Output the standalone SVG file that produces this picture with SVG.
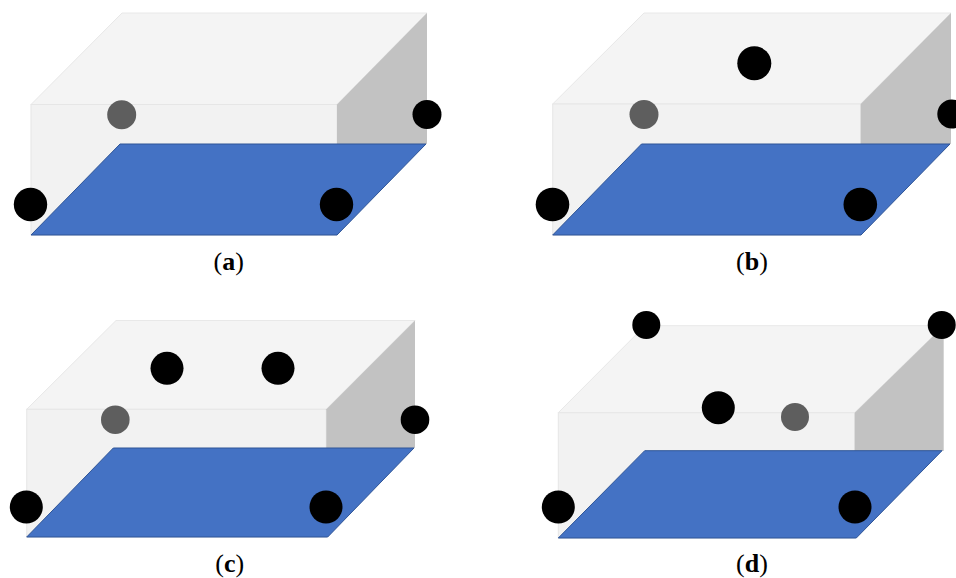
<svg xmlns="http://www.w3.org/2000/svg" width="956" height="578" viewBox="0 0 956 578">
<style>
.front{fill:#f2f2f2;stroke:#e6e6e6;stroke-width:1}
.top{fill:#f4f4f4;stroke:#e8e8e8;stroke-width:1}
.side{fill:#c2c2c2}
.floor{fill:#4472c4;stroke:#2f5597;stroke-width:1}
.b{fill:#000}
.g{fill:#5e5e5e}
text{font-family:"Liberation Serif","Times New Roman",serif;font-size:26px;fill:#000;text-anchor:middle}
.l{font-weight:bold}
</style>
<rect width="956" height="578" fill="#fff"/>
<g id="panel-a">
<path class="top" d="M31 104.500L122 13H427L337 104.500Z"/>
<rect class="front" x="31" y="104.500" width="306" height="130.500"/>
<path class="side" d="M337 104.500L427 13V144H337Z"/>
<path class="floor" d="M31 235L120 144H426L337 235Z"/>
<circle class="g" cx="121.700" cy="114.700" r="14.500"/>
<circle class="b" cx="427" cy="114.500" r="14.500"/>
<circle class="b" cx="30.500" cy="204.500" r="16.700"/>
<circle class="b" cx="336.500" cy="204.500" r="16.700"/>
<text x="228.700" y="269.500">(<tspan class="l">a</tspan>)</text>
</g>
<g id="panel-b">
<path class="top" d="M552.700 104L644 13H951L860.700 104Z"/>
<rect class="front" x="552.700" y="104" width="308" height="131"/>
<path class="side" d="M860.700 104L951 13V144H860.700Z"/>
<path class="floor" d="M552.700 235L641.500 144H950L861 235Z"/>
<circle class="b" cx="754.300" cy="63.300" r="17"/>
<circle class="g" cx="644" cy="114.500" r="14.500"/>
<circle class="b" cx="951.800" cy="114" r="14.500"/>
<circle class="b" cx="552.500" cy="204.500" r="16.800"/>
<circle class="b" cx="860.300" cy="204.500" r="16.800"/>
<text x="752" y="269.500">(<tspan class="l">b</tspan>)</text>
</g>
<g id="panel-c">
<path class="top" d="M26.700 409.300L116 320.500H415L326.300 409.300Z"/>
<rect class="front" x="26.700" y="409.300" width="299.600" height="127.700"/>
<path class="side" d="M326.300 409.300L415 320.500V448H326.300Z"/>
<path class="floor" d="M26.700 537L113.300 448H414L327.700 537Z"/>
<circle class="b" cx="167" cy="368.300" r="16.500"/>
<circle class="b" cx="278" cy="368.300" r="16.500"/>
<circle class="g" cx="115.300" cy="419.700" r="14.300"/>
<circle class="b" cx="415" cy="419.700" r="14.300"/>
<circle class="b" cx="26.300" cy="507" r="16.500"/>
<circle class="b" cx="326" cy="507" r="16.500"/>
<text x="229.700" y="572">(<tspan class="l">c</tspan>)</text>
</g>
<g id="panel-d">
<path class="top" d="M558.300 412.700L645 325.700H943.700L854.700 412.700Z"/>
<rect class="front" x="558.300" y="412.700" width="296.400" height="125.300"/>
<path class="side" d="M854.700 412.700L943.700 325.700V451H854.700Z"/>
<path class="floor" d="M558.300 538L644.700 450.700H942L856.300 538Z"/>
<circle class="b" cx="646.300" cy="325" r="14"/>
<circle class="b" cx="941.700" cy="325" r="14"/>
<circle class="b" cx="718.300" cy="407.700" r="16.500"/>
<circle class="g" cx="795" cy="417" r="14"/>
<circle class="b" cx="558.300" cy="507" r="16.500"/>
<circle class="b" cx="855" cy="507" r="16.500"/>
<text x="752" y="572">(<tspan class="l">d</tspan>)</text>
</g>
</svg>
